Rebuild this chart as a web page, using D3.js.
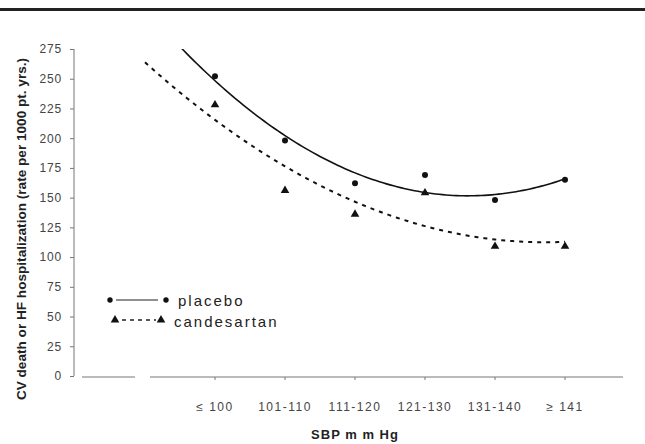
<!DOCTYPE html>
<html>
<head>
<meta charset="utf-8">
<script src="https://cdn.jsdelivr.net/npm/d3@7"></script>
<style>
  body { margin: 0; background: #fff; }
  text { font-family: Arial, "Liberation Sans", sans-serif; }
</style>
</head>
<body>
<svg width="645" height="444"></svg>
<script>
var categories = ["\u2264 100", "101-110", "111-120", "121-130", "131-140", "\u2265 141"];
var placebo = [252, 198, 162, 169, 148, 165];
var candesartan = [228, 156, 136, 154, 109, 109];
var yTicks = [0, 25, 50, 75, 100, 125, 150, 175, 200, 225, 250, 275];

var svg = d3.select("svg");

// top rule
svg.append("line")
    .attr("x1", 0).attr("x2", 645)
    .attr("y1", 9.5).attr("y2", 9.5)
    .attr("stroke", "#222").attr("stroke-width", 3);

// x index 0 is the empty slot before the first category (trend back-forecast)
var x = d3.scaleLinear().domain([0, 6]).range([145, 565]);
var y = d3.scaleLinear().domain([0, 275]).range([376, 49]);

// y axis
var yAxis = d3.axisLeft(y).tickValues(yTicks).tickSize(4).tickPadding(8);
var gy = svg.append("g")
    .attr("transform", "translate(74,0)")
    .call(yAxis);
gy.select(".domain").attr("stroke", "#777").attr("d", "M0," + y(275) + "V" + y(0));
gy.selectAll(".tick line").attr("stroke", "#777");
gy.selectAll(".tick text").attr("fill", "#444")
    .style("font-size", "12px").style("letter-spacing", "0.8px");

// x axis: broken baseline
svg.append("line").attr("x1", 82).attr("x2", 135).attr("y1", 377).attr("y2", 377)
    .attr("stroke", "#777");
svg.append("line").attr("x1", 150).attr("x2", 623).attr("y1", 377).attr("y2", 377)
    .attr("stroke", "#777");
svg.selectAll(".xtick")
    .data(categories)
    .enter().append("line")
    .attr("class", "xtick")
    .attr("x1", function (d, i) { return x(i + 1); })
    .attr("x2", function (d, i) { return x(i + 1); })
    .attr("y1", 377).attr("y2", 380)
    .attr("stroke", "#777");
svg.selectAll(".xlabel")
    .data(categories)
    .enter().append("text")
    .attr("class", "xlabel")
    .attr("x", function (d, i) { return x(i + 1); })
    .attr("y", 411)
    .attr("text-anchor", "middle")
    .attr("fill", "#444")
    .style("font-size", "12px")
    .style("letter-spacing", "1.5px")
    .text(function (d) { return d; });

// titles
svg.append("text")
    .attr("x", 355).attr("y", 439)
    .attr("text-anchor", "middle")
    .attr("font-weight", "bold")
    .attr("fill", "#222")
    .style("font-size", "13px")
    .style("letter-spacing", "1px")
    .text("SBP  m m Hg");

svg.append("text")
    .attr("transform", "translate(26,229) rotate(-90)")
    .attr("text-anchor", "middle")
    .attr("font-weight", "bold")
    .attr("fill", "#222")
    .style("font-size", "13.6px")
    .text("CV death or HF hospitalization (rate per 1000 pt. yrs.)");

// quadratic least-squares trend (as in the spreadsheet trendline)
function quadFit(vals) {
    var xs = vals.map(function (v, i) { return i + 1; });
    var mx = d3.mean(xs);
    var u = xs.map(function (v) { return v - mx; });
    var mu2 = d3.mean(u, function (v) { return v * v; });
    var w = u.map(function (v) { return v * v - mu2; });
    var my = d3.mean(vals);
    var b = d3.sum(u, function (v, i) { return v * vals[i]; }) / d3.sum(u, function (v) { return v * v; });
    var c = d3.sum(w, function (v, i) { return v * vals[i]; }) / d3.sum(w, function (v) { return v * v; });
    return function (t) { var uu = t - mx; return my + b * uu + c * (uu * uu - mu2); };
}

svg.append("clipPath").attr("id", "plot")
    .append("rect").attr("x", 74).attr("y", y(275)).attr("width", 560).attr("height", y(0) - y(275));

var samples = d3.range(0, 6.001, 0.05);
var line = d3.line()
    .x(function (d) { return x(d[0]); })
    .y(function (d) { return y(d[1]); });

var fp = quadFit(placebo), fc = quadFit(candesartan);
svg.append("path")
    .attr("clip-path", "url(#plot)")
    .attr("d", line(samples.map(function (t) { return [t, fp(t)]; })))
    .attr("fill", "none").attr("stroke", "#111").attr("stroke-width", 1.6);
svg.append("path")
    .attr("clip-path", "url(#plot)")
    .attr("d", line(samples.map(function (t) { return [t, fc(t)]; })))
    .attr("fill", "none").attr("stroke", "#111").attr("stroke-width", 2)
    .attr("stroke-dasharray", "4,5");

// markers
var tri = d3.symbol().type(d3.symbolTriangle).size(32);
svg.selectAll(".pl")
    .data(placebo)
    .enter().append("circle")
    .attr("cx", function (d, i) { return x(i + 1); })
    .attr("cy", function (d) { return y(d); })
    .attr("r", 3)
    .attr("fill", "#111");
svg.selectAll(".cd")
    .data(candesartan)
    .enter().append("path")
    .attr("d", tri)
    .attr("transform", function (d, i) { return "translate(" + x(i + 1) + "," + y(d) + ")"; })
    .attr("fill", "#111");

// legend
var lg = svg.append("g");
lg.append("line").attr("x1", 116).attr("x2", 158).attr("y1", 300).attr("y2", 300)
    .attr("stroke", "#222").attr("stroke-width", 1.2);
lg.append("circle").attr("cx", 110).attr("cy", 300).attr("r", 2.7).attr("fill", "#111");
lg.append("circle").attr("cx", 166).attr("cy", 300).attr("r", 2.7).attr("fill", "#111");
lg.append("text").attr("x", 178).attr("y", 306).attr("fill", "#222")
    .style("font-size", "15px").style("letter-spacing", "2px").text("placebo");

lg.append("line").attr("x1", 122).attr("x2", 156).attr("y1", 320).attr("y2", 320)
    .attr("stroke", "#222").attr("stroke-width", 1.5).attr("stroke-dasharray", "4,4");
lg.append("path").attr("d", tri).attr("transform", "translate(115,320)").attr("fill", "#111");
lg.append("path").attr("d", tri).attr("transform", "translate(161,320)").attr("fill", "#111");
lg.append("text").attr("x", 174).attr("y", 327).attr("fill", "#222")
    .style("font-size", "15px").style("letter-spacing", "2px").text("candesartan");
</script>
</body>
</html>
